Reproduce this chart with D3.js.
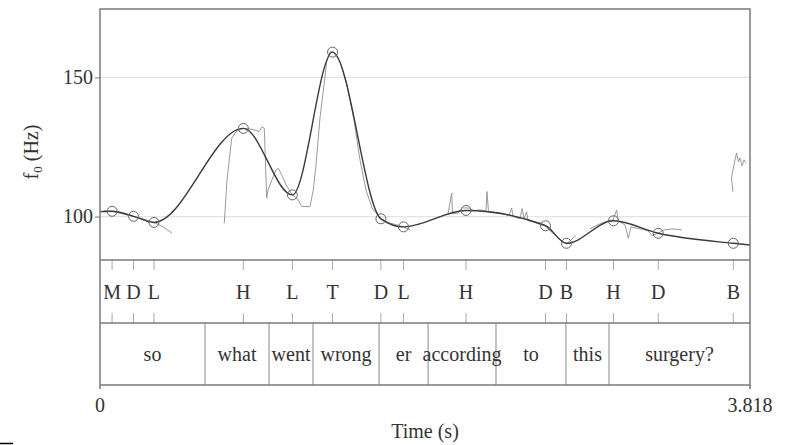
<!DOCTYPE html>
<html>
<head>
<meta charset="utf-8">
<script src="https://cdn.jsdelivr.net/npm/d3@7"></script>
<style>
  html, body { margin: 0; padding: 0; background: #fff; }
  svg { display: block; }
  text { font-family: "Liberation Serif", "DejaVu Serif", serif; fill: #333; }
</style>
</head>
<body>
<svg id="chart" width="787" height="445"></svg>
<script>
// ---------- data ----------
const duration = 3.818;
const yTicks = [100, 150];

// tonal targets (time s, f0 Hz, label)
const toneTimes  = [0.071, 0.197, 0.317, 0.842, 1.130, 1.366, 1.650, 1.783, 2.150, 2.617, 2.740, 3.016, 3.279, 3.720];
const toneValues = [101.9, 100.1, 97.9, 131.7, 107.8, 159.1, 99.2, 96.3, 102.2, 96.7, 90.4, 98.5, 94.0, 90.4];
const toneLabels = ["M", "D", "L", "H", "L", "T", "D", "L", "H", "D", "B", "H", "D", "B"];

// stylised contour end points
const contourStart = [0.0, 101.8];
const contourEnd = [3.818, 89.8];

// word tier
const wordBounds = [0, 0.617, 0.993, 1.251, 1.639, 1.927, 2.326, 2.737, 2.990, 3.818];
const words = ["so", "what", "went", "wrong", "er", "according", "to", "this", "surgery?"];

// raw f0 trace fragments [time, Hz]
const raw1 = [[0.023,102.1],[0.070,101.9],[0.129,101.0],[0.194,100.1],[0.253,99.2],[0.317,97.9],[0.370,96.3],[0.423,94.1]];
const raw2 = [[0.730,97.6],[0.746,113.2],[0.774,128.2],[0.799,130.5],[0.842,131.7],[0.881,131.5],[0.916,131.0],[0.934,130.5],
              [0.952,132.3],[0.965,131.8],[0.979,106.6],[0.987,109.6],[1.010,113.2],[1.034,116.8],[1.047,117.4],[1.067,115.0],
              [1.093,111.4],[1.130,107.8],[1.157,106.5],[1.186,103.6],[1.233,103.6],[1.253,109.6],[1.269,118.6],[1.292,135.4],
              [1.316,147.4],[1.332,155.8],[1.351,159.2],[1.369,159.2],[1.410,155.6],[1.451,147.4],[1.492,134.8],[1.527,120.4],
              [1.562,109.6],[1.598,103.1],[1.650,99.2],[1.703,97.7],[1.783,96.3],[1.821,95.2]];
const raw3 = [[2.044,101.0],[2.066,108.4],[2.070,101.0],[2.103,101.3],[2.126,103.1],[2.162,103.1],[2.197,102.1],[2.232,102.4],
              [2.267,102.1],[2.273,109.0],[2.282,101.7],[2.320,101.5],[2.367,101.0],[2.402,100.3],[2.418,103.1],[2.426,100.1],
              [2.467,99.2],[2.479,102.9],[2.491,99.2],[2.506,101.7],[2.514,98.5],[2.555,98.1],[2.590,97.7],[2.617,96.7],
              [2.643,94.9],[2.678,93.1],[2.714,91.3],[2.740,90.2],[2.761,91.3],[2.796,93.1]];
const raw4 = [[2.878,95.6],[2.937,97.4],[2.984,98.5],[3.013,98.8],[3.035,102.4],[3.043,98.5],[3.084,97.0],[3.103,92.2],
              [3.119,96.3],[3.172,95.6],[3.219,94.9],[3.243,93.1],[3.278,94.0],[3.313,95.2],[3.360,95.6],[3.418,95.2]];
const raw5 = [[3.718,108.9],[3.709,113.9],[3.724,118.6],[3.739,122.9],[3.750,119.7],[3.759,121.1],[3.771,118.2],[3.783,120.4],[3.794,119.3]];
const rawSegments = [raw1, raw2, raw3, raw4, raw5];

// ---------- layout ----------
const L = 100, R = 750, T = 9, pitchBottom = 260, toneBottom = 323, wordBottom = 385;
const FS = 20;
const svg = d3.select("#chart");

const x = d3.scaleLinear().domain([0, duration]).range([L, R]);
const y = d3.scaleLinear().domain([84.4, 174.6]).range([pitchBottom, T]);

svg.append("defs").append("clipPath").attr("id", "pclip")
  .append("rect").attr("x", L).attr("y", T).attr("width", R - L).attr("height", pitchBottom - T);

// grid lines
svg.append("g").selectAll("line").data(yTicks).join("line")
  .attr("x1", L).attr("x2", R).attr("y1", d => y(d)).attr("y2", d => y(d))
  .attr("stroke", "#e4e4e4").attr("stroke-width", 1.2);

// y axis
const yAxis = svg.append("g").attr("transform", `translate(${L},0)`)
  .call(d3.axisLeft(y).tickValues(yTicks).tickSize(5).tickPadding(2).tickFormat(d3.format("d")));
yAxis.select(".domain").remove();
yAxis.selectAll(".tick line").attr("stroke", "#777");
yAxis.selectAll(".tick text").attr("font-family", "Liberation Serif").attr("font-size", FS).attr("fill", "#333");

// y label f0 (Hz)
const yl = svg.append("text").attr("transform", "translate(38,152) rotate(-90)")
  .attr("text-anchor", "middle").attr("font-size", FS);
yl.append("tspan").text("f");
yl.append("tspan").attr("font-size", 13).attr("dy", 4).text("0");
yl.append("tspan").attr("dy", -4).text(" (Hz)");

const plot = svg.append("g").attr("clip-path", "url(#pclip)");

// raw trace
const rawLine = d3.line().x(d => x(d[0])).y(d => y(d[1]));
plot.selectAll("path.raw").data(rawSegments).join("path").attr("class", "raw")
  .attr("d", rawLine).attr("fill", "none").attr("stroke", "#9a9a9a").attr("stroke-width", 1);

// stylised contour
const contour = [contourStart, ...toneTimes.map((t, i) => [t, toneValues[i]]), contourEnd];
plot.append("path").datum(contour)
  .attr("d", d3.line().x(d => x(d[0])).y(d => y(d[1])).curve(d3.curveMonotoneX))
  .attr("fill", "none").attr("stroke", "#3a3a3a").attr("stroke-width", 1.4);

// target circles
plot.selectAll("circle").data(toneTimes).join("circle")
  .attr("cx", d => x(d)).attr("cy", (d, i) => y(toneValues[i])).attr("r", 5)
  .attr("fill", "none").attr("stroke", "#666").attr("stroke-width", 1);

// tone tier ticks and labels
const tg = svg.append("g");
tg.selectAll("line.top").data(toneTimes).join("line").attr("class", "top")
  .attr("x1", d => x(d)).attr("x2", d => x(d)).attr("y1", pitchBottom).attr("y2", pitchBottom + 10)
  .attr("stroke", "#aaa").attr("stroke-width", 1);
tg.selectAll("line.bot").data(toneTimes).join("line").attr("class", "bot")
  .attr("x1", d => x(d)).attr("x2", d => x(d)).attr("y1", toneBottom - 10).attr("y2", toneBottom)
  .attr("stroke", "#aaa").attr("stroke-width", 1);
tg.selectAll("text").data(toneLabels).join("text")
  .attr("x", (d, i) => x(toneTimes[i])).attr("y", 299)
  .attr("text-anchor", "middle").attr("font-size", FS).text(d => d);

// word tier
const wg = svg.append("g");
wg.selectAll("line").data(wordBounds.slice(1, -1)).join("line")
  .attr("x1", d => x(d)).attr("x2", d => x(d)).attr("y1", toneBottom).attr("y2", wordBottom)
  .attr("stroke", "#888").attr("stroke-width", 1);
wg.selectAll("text").data(words).join("text")
  .attr("x", (d, i) => (x(wordBounds[i]) + x(wordBounds[i + 1])) / 2).attr("y", 361)
  .attr("text-anchor", "middle").attr("font-size", FS).text(d => d);

// frame
const fr = svg.append("g").attr("fill", "none").attr("stroke", "#7a7a7a").attr("stroke-width", 1.5);
fr.append("rect").attr("x", L).attr("y", T).attr("width", R - L).attr("height", wordBottom - T);
fr.append("line").attr("x1", L).attr("x2", R).attr("y1", pitchBottom).attr("y2", pitchBottom);
fr.append("line").attr("x1", L).attr("x2", R).attr("y1", toneBottom).attr("y2", toneBottom);
fr.append("line").attr("x1", x(0)).attr("x2", x(0)).attr("y1", wordBottom).attr("y2", wordBottom + 4);
fr.append("line").attr("x1", x(duration)).attr("x2", x(duration)).attr("y1", wordBottom).attr("y2", wordBottom + 4);

// x axis end labels
svg.append("text").attr("x", x(0)).attr("y", 412).attr("text-anchor", "middle").attr("font-size", FS).text("0");
svg.append("text").attr("x", x(duration)).attr("y", 412).attr("text-anchor", "middle").attr("font-size", FS).text(d3.format(".3f")(duration));
svg.append("text").attr("x", 425).attr("y", 438).attr("text-anchor", "middle").attr("font-size", FS).text("Time (s)");

// small mark bottom-left
svg.append("line").attr("x1", 0).attr("x2", 13).attr("y1", 443.5).attr("y2", 443.5).attr("stroke", "#000").attr("stroke-width", 1.5);
</script>
</body>
</html>
